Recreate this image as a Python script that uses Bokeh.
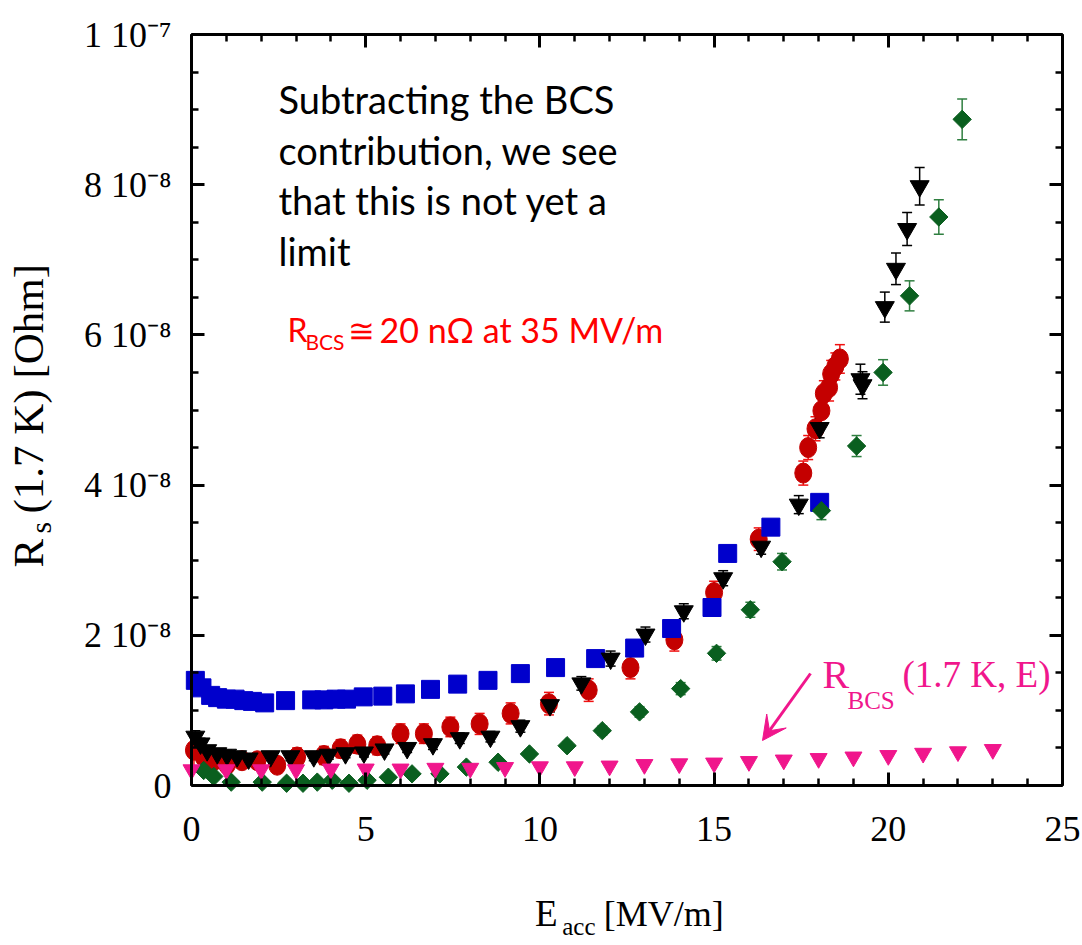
import math
from bokeh.plotting import figure
from bokeh.models import (Range1d, FixedTicker, LinearAxis, Label, Whisker, TeeHead,
                          ColumnDataSource, Arrow, VeeHead, CustomLabelingPolicy)
from bokeh.embed import file_html
from bokeh.resources import INLINE

# ---------------- data (R in units of 1e-8 Ohm, E in MV/m) ----------------
blue_E = [0.11, 0.30, 0.55, 0.75, 1.00, 1.25, 1.50, 1.75, 2.10, 2.70, 3.45, 3.80, 4.15, 4.45, 4.93,
          5.49, 6.14, 6.86, 7.64, 8.51, 9.44, 10.45, 11.60, 12.72, 13.78, 14.94, 15.39, 16.63, 18.03]
blue_R = [1.40, 1.30, 1.20, 1.17, 1.15, 1.15, 1.13, 1.12, 1.10, 1.13, 1.14, 1.14, 1.15, 1.15, 1.18,
          1.19, 1.22, 1.28, 1.35, 1.40, 1.49, 1.57, 1.69, 1.83, 2.09, 2.37, 3.09, 3.44, 3.77]

red_E = [0.07, 0.35, 0.64, 1.02, 1.45, 1.89, 2.46, 3.03, 3.80, 4.28, 4.76, 5.33, 6.00, 6.67, 7.43,
         8.27, 9.16, 10.26, 11.40, 12.60, 13.86, 15.00, 16.28, 17.56, 17.70, 17.91, 18.08, 18.15,
         18.30, 18.36, 18.48, 18.61]
red_R = [0.47, 0.38, 0.33, 0.28, 0.33, 0.33, 0.27, 0.38, 0.40, 0.49, 0.55, 0.53, 0.69, 0.69, 0.78,
         0.82, 0.96, 1.09, 1.27, 1.57, 1.94, 2.57, 3.28, 4.16, 4.50, 4.75, 4.99, 5.22, 5.30, 5.48,
         5.58, 5.68]
red_err = [0.22, 0.12, 0.10, 0.10, 0.10, 0.10, 0.10, 0.12, 0.12, 0.12, 0.12, 0.12, 0.13, 0.13, 0.13,
           0.14, 0.14, 0.15, 0.15, 0.15, 0.15, 0.15, 0.15, 0.16, 0.16, 0.16, 0.17, 0.17, 0.18, 0.18,
           0.18, 0.19]

black_E = [0.11, 0.26, 0.45, 0.74, 1.02, 1.31, 1.64, 2.27, 2.84, 3.51, 3.94, 4.42, 4.95, 5.54, 6.19,
           6.93, 7.70, 8.58, 9.44, 10.29, 11.19, 12.03, 13.03, 14.13, 15.26, 16.35, 17.43, 18.03,
           19.20, 19.26, 19.90, 20.22, 20.54, 20.90]
black_R = [0.65, 0.56, 0.47, 0.43, 0.41, 0.39, 0.36, 0.39, 0.39, 0.39, 0.41, 0.43, 0.44, 0.48, 0.50,
           0.55, 0.63, 0.65, 0.79, 1.07, 1.36, 1.69, 2.01, 2.32, 2.76, 3.18, 3.74, 4.76, 5.41, 5.33,
           6.37, 6.88, 7.41, 7.98]
black_err = [0.08, 0.07, 0.06, 0.06, 0.06, 0.06, 0.06, 0.06, 0.06, 0.06, 0.06, 0.06, 0.06, 0.06, 0.06,
             0.07, 0.07, 0.07, 0.08, 0.09, 0.09, 0.10, 0.10, 0.10, 0.10, 0.10, 0.12, 0.13, 0.20, 0.18,
             0.20, 0.21, 0.22, 0.25]

green_E = [0.35, 0.64, 1.14, 2.03, 2.73, 3.20, 3.61, 4.04, 4.52, 5.04, 5.65, 6.33, 7.13, 7.89, 8.80,
           9.70, 10.78, 11.79, 12.86, 14.04, 15.07, 16.04, 16.95, 18.08, 19.09, 19.85, 20.61, 21.45,
           22.12]
green_R = [0.20, 0.12, 0.045, 0.045, 0.03, 0.03, 0.045, 0.07, 0.03, 0.07, 0.11, 0.155, 0.155, 0.245,
           0.31, 0.42, 0.53, 0.73, 0.98, 1.29, 1.76, 2.34, 2.98, 3.66, 4.52, 5.50, 6.52, 7.57, 8.87]
green_err = [0.03, 0.03, 0.03, 0.03, 0.03, 0.03, 0.03, 0.03, 0.03, 0.03, 0.03, 0.03, 0.03, 0.04, 0.04,
             0.05, 0.05, 0.06, 0.07, 0.08, 0.09, 0.10, 0.11, 0.12, 0.14, 0.17, 0.20, 0.23, 0.27]

pink_E = [0, 1, 2, 3, 4, 5, 6, 7, 8, 9, 10, 11, 12, 13, 14, 15, 16, 17, 18, 19, 20, 21, 22, 23]
pink_R = [0.21, 0.21, 0.21, 0.21, 0.22, 0.22, 0.22, 0.23, 0.23, 0.24, 0.25, 0.25, 0.26, 0.28, 0.29,
          0.30, 0.32, 0.34, 0.36, 0.38, 0.40, 0.43, 0.45, 0.48]

x_major = [0, 5, 10, 15, 20, 25]
x_minor = list(range(0, 26))
y_major = [0, 2, 4, 6, 8, 10]
y_minor = [0, 0.5, 1, 1.5, 2, 2.5, 3, 3.5, 4, 4.5, 5, 5.5, 6, 6.5, 7, 7.5, 8, 8.5, 9, 9.5, 10]
y_labels = {0: "0", 2: "2 10\u207b\u2078", 4: "4 10\u207b\u2078", 6: "6 10\u207b\u2078",
            8: "8 10\u207b\u2078", 10: "1 10\u207b\u2077"}

# ---------------- colours ----------------
BLUE = "#0000CC"
RED = "#C40000"
RED_ERR = "#F01010"
BLACK = "#000000"
GREEN = "#0A5F1F"
GREEN_ERR = "#2F7F40"
PINK = "#F0168C"

# ---------------- layout ----------------
W, H = 1082, 945
# pixel position of the data box (x: 0..25, y: 0..10 [x1e-8])
BL, BR, BT, BB = 191, 1062, 34, 785
XMAX, YMAX = 25.0, 10.0


def ex(px):
    return (px - BL) / (BR - BL) * XMAX


def ey(py):
    return (BB - py) / (BB - BT) * YMAX


p = figure(width=W, height=H, output_backend="svg", toolbar_location=None,
           x_range=Range1d(ex(0), ex(W)), y_range=Range1d(ey(H), ey(0)),
           x_axis_type=None, y_axis_type=None,
           min_border_left=0, min_border_right=0, min_border_top=0, min_border_bottom=0)
p.title.visible = False
p.grid.visible = False
p.outline_line_color = None
p.background_fill_color = "white"
p.border_fill_color = "white"

hide_all = CustomLabelingPolicy(code="for (const i of indices) { indices.unset(i) } return indices")


def make_axis(ticks, minor, loc, bounds, show):
    ax = LinearAxis(ticker=FixedTicker(ticks=ticks, minor_ticks=minor),
                    fixed_location=loc, bounds=bounds)
    ax.axis_line_width = 3
    ax.axis_line_color = "black"
    ax.major_tick_in = 13
    ax.major_tick_out = 0
    ax.minor_tick_in = 7
    ax.minor_tick_out = 0
    ax.major_tick_line_width = 3
    ax.minor_tick_line_width = 2.5
    ax.major_tick_line_color = "black"
    ax.minor_tick_line_color = "black"
    ax.major_label_text_font = "Liberation Serif"
    ax.major_label_text_font_size = "36px"
    ax.major_label_text_color = "black"
    if not show:
        ax.major_label_policy = hide_all
    return ax


bottom = make_axis(x_major, x_minor, 0, (0, XMAX), True)
bottom.major_label_standoff = 31
top = make_axis(x_major, x_minor, YMAX, (0, XMAX), False)
left = make_axis(y_major, y_minor, 0, (0, YMAX), True)
left.major_label_standoff = 20
left.major_label_overrides = y_labels
right = make_axis(y_major, y_minor, XMAX, (0, YMAX), False)
p.add_layout(bottom, "below")
p.add_layout(top, "above")
p.add_layout(left, "left")
p.add_layout(right, "right")


def err_source(E, R, err):
    return ColumnDataSource(dict(E=E, R=R,
                                 up=[r + e for r, e in zip(R, err)],
                                 lo=[r - e for r, e in zip(R, err)]))


def whisk(src, color):
    w = Whisker(source=src, base="E", upper="up", lower="lo", level="underlay",
                line_color=color, line_width=1.5,
                upper_head=TeeHead(size=10, line_color=color, line_width=1.5),
                lower_head=TeeHead(size=10, line_color=color, line_width=1.5))
    p.add_layout(w)


red_src = err_source(red_E, red_R, red_err)
black_src = err_source(black_E, black_R, black_err)
green_src = err_source(green_E, green_R, green_err)
whisk(red_src, RED_ERR)
whisk(black_src, BLACK)
whisk(green_src, GREEN_ERR)

# markers (draw order: red, blue, black, green, pink)
p.ellipse(x="E", y="R", width=17, height=20, width_units="screen", height_units="screen",
          fill_color=RED, line_color=RED, source=red_src)
p.scatter(blue_E, blue_R, marker="square", size=18, fill_color=BLUE, line_color=BLUE)
p.scatter(x="E", y="R", marker="inverted_triangle", size=19, fill_color=BLACK, line_color=BLACK,
          source=black_src)
p.scatter(x="E", y="R", marker="square", angle=math.pi / 4, size=13, fill_color=GREEN,
          line_color=GREEN, source=green_src)
p.scatter(pink_E, pink_R, marker="inverted_triangle", size=17, fill_color=PINK, line_color=PINK)

BASE_FIX = 0.33  # empirical shift so that the given pixel is the text baseline


def lab(text, px, py, size, font, color, angle=0.0, align="left"):
    if angle == 0.0:
        py = py - BASE_FIX * size
    else:
        px = px - BASE_FIX * size
    p.add_layout(Label(x=ex(px), y=ey(py), text=text, text_font=font,
                       text_font_size=f"{size}px", text_color=color,
                       text_align=align, text_baseline="alphabetic", angle=angle))


# annotation text
for line, base in zip(["Subtracting the BCS", "contribution, we see",
                       "that this is not yet a", "limit"],
                      [110.7, 161.7, 212.3, 262.7]):
    lab(line, 278, base, 38, "Lato", "black")

lab("R", 287, 340, 32, "Lato", "#FF0000")
lab("BCS", 305, 348, 21, "Lato", "#FF0000")
lab("\u2245", 347, 340, 32, "Lato", "#FF0000")
lab("20 n\u03a9 at 35 MV/m", 379, 340, 34, "Lato", "#FF0000")

lab("R", 822, 686.7, 40, "Liberation Serif", PINK)
lab("BCS", 847, 708, 25, "Liberation Serif", PINK)
lab("(1.7 K, E)", 902, 686.7, 37, "Liberation Serif", PINK)

p.add_layout(Arrow(end=VeeHead(size=24, line_color=PINK, fill_color=PINK, line_width=1),
                   x_start=ex(810), y_start=ey(673), x_end=ex(762), y_end=ey(740),
                   line_color=PINK, line_width=3))

# axis titles
lab("E", 557, 925, 37, "Liberation Serif", "black", align="right")
lab("acc", 561.7, 934, 25, "Liberation Serif", "black")
lab("[MV/m]", 603.3, 925, 36, "Liberation Serif", "black")

lab("R", 42, 567, 43, "Liberation Serif", "black", angle=math.pi / 2)
lab("s", 50, 533, 30, "Liberation Serif", "black", angle=math.pi / 2)
lab("(1.7 K) [Ohm]", 42, 513, 43, "Liberation Serif", "black", angle=math.pi / 2)

open("out.html", "w").write(file_html(p, INLINE))
